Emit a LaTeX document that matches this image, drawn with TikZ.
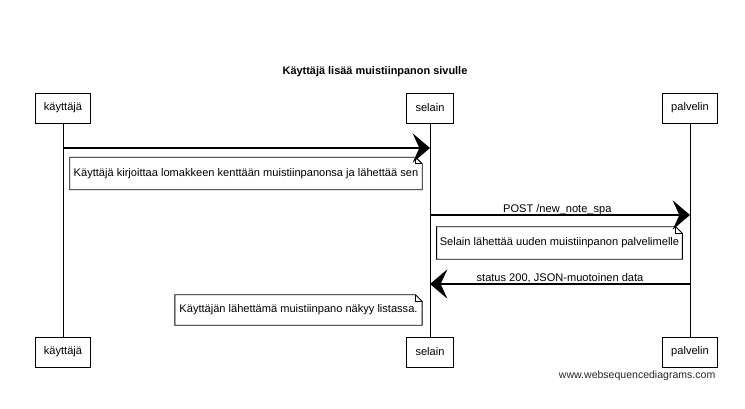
\documentclass[tikz,border=0pt]{standalone}
\usepackage{fontspec}
\setmainfont{Liberation Sans}
\usetikzlibrary{arrows.meta,calc}

% folded-corner outline round a note node
\newcommand{\foldnote}[1]{%
  \draw[notepath] (#1.north west) -- ([xshift=-5pt]#1.north east) -- ([yshift=-5pt]#1.north east)
    -- (#1.south east) -- (#1.south west) -- cycle;
  \draw[notepath] ([xshift=-5pt]#1.north east) |- ([yshift=-5pt]#1.north east);}

\begin{document}
\begin{tikzpicture}[
  x=0.75pt, y=-0.75pt,
  every node/.style={font=\fontsize{8.3}{10}\selectfont},
  actor/.style={draw, fill=white, minimum height=22.5pt, inner xsep=6.5pt, line width=0.7pt},
  lifeline/.style={line width=0.7pt},
  msg/.style={line width=1pt, -{Stealth[length=13pt, width=22pt, inset=5pt]}},
  note/.style={minimum height=24pt, inner sep=2pt},
  notepath/.style={line width=0.7pt},
  >=Stealth
]
\useasboundingbox (0,0) rectangle (745,408);

\node[font=\fontsize{8.2}{10}\selectfont\bfseries] (title) at (375,72) {Käyttäjä lisää muistiinpanon sivulle};

% participants
\node[actor] (kayttaja)  at (63,108)  {käyttäjä};
\node[actor] (selain)    at (430,108) {selain};
\node[actor] (palvelin)  at (690,108) {palvelin};
\node[actor] (kayttajaB) at (63,352)  {käyttäjä};
\node[actor] (selainB)   at (430,352) {selain};
\node[actor] (palvelinB) at (690,352) {palvelin};

\draw[lifeline] (kayttaja.south) -- (kayttajaB.north);
\draw[lifeline] (selain.south) -- (selainB.north);
\draw[lifeline] (palvelin.south) -- (palvelinB.north);

% messages
\coordinate (m1a) at (kayttaja |- 0,148);
\coordinate (m1b) at (selain |- 0,148);
\coordinate (m2a) at (selain |- 0,215);
\coordinate (m2b) at (palvelin |- 0,215);
\coordinate (m3a) at (palvelin |- 0,284);
\coordinate (m3b) at (selain |- 0,284);

\draw[msg] (m1a) -- (m1b);
\draw[msg] (m2a) -- node[above=-3.5pt, xshift=-2pt] (post) {POST /new\_note\_spa} (m2b);
\draw[msg] (m3a) -- node[above=-3pt] (status) {status 200, JSON-muotoinen data} (m3b);

% notes
\node[note, minimum width=264pt] (note1) at (246,173.5) {Käyttäjä kirjoittaa lomakkeen kenttään muistiinpanonsa ja lähettää sen};
\foldnote{note1}
\node[note, minimum width=184pt] (note2) at (559.5,243) {Selain lähettää uuden muistiinpanon palvelimelle};
\foldnote{note2}
\node[note, minimum width=185pt, minimum height=22.5pt] (note3) at (298.5,310) {Käyttäjän lähettämä muistiinpano näkyy listassa.};
\foldnote{note3}

\node[anchor=east, text=black!85, font=\fontsize{7.9}{10}\selectfont] (wsd) at (720,376) {www.websequencediagrams.com};
\end{tikzpicture}
\end{document}
